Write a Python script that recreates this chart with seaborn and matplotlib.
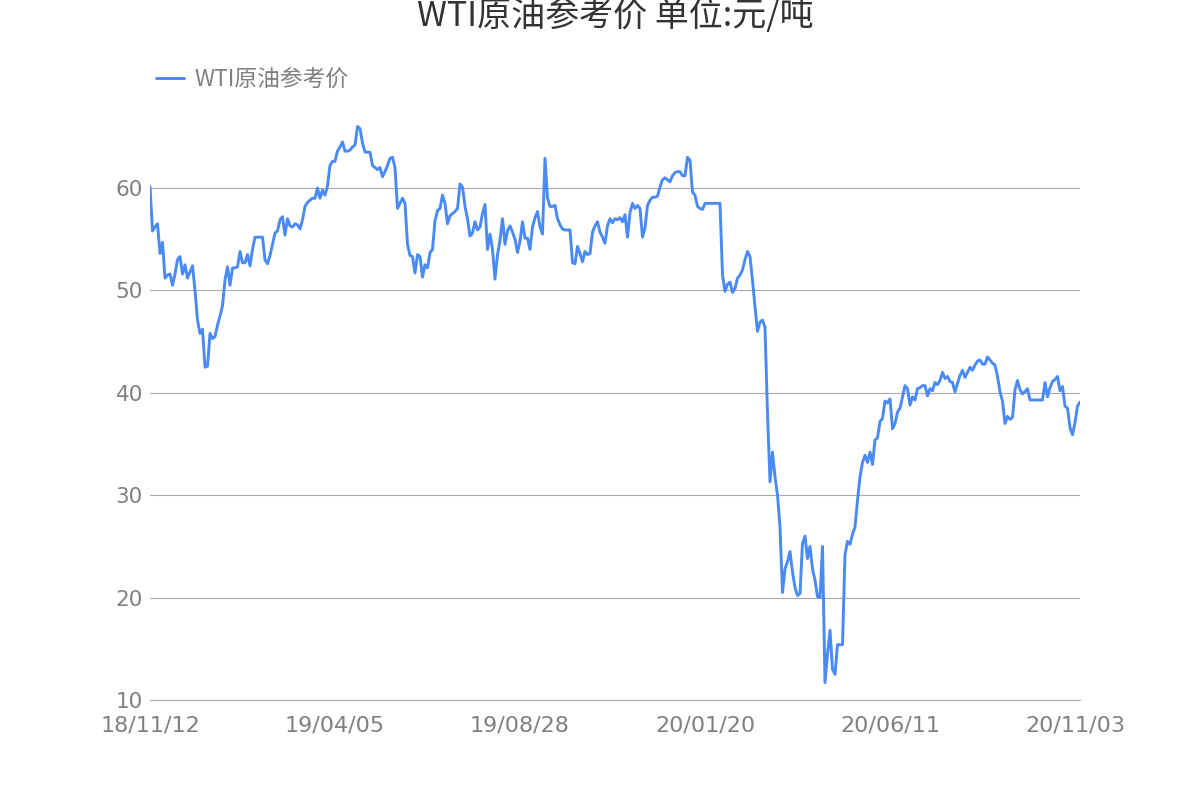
import matplotlib
matplotlib.use("Agg")
import matplotlib.pyplot as plt
import seaborn as sns
import pandas as pd
import numpy as np
from matplotlib.lines import Line2D

title = "WTI原油参考价 单位:元/吨"
series_name = "WTI原油参考价"
tick_labels = ["18/11/12", "19/04/05", "19/08/28", "20/01/20", "20/06/11", "20/11/03"]
points_per_label = 74

values = [
    60.1, 55.8, 56.2, 56.5, 53.6, 54.7, 51.2, 51.5, 51.6, 50.5,
    51.6, 53.0, 53.3, 51.6, 52.5, 51.2, 51.8, 52.4, 50.0, 47.1,
    45.8, 46.2, 42.5, 42.6, 45.8, 45.3, 45.5, 46.6, 47.5, 48.5,
    51.0, 52.3, 50.5, 52.2, 52.2, 52.3, 53.8, 52.7, 52.7, 53.5,
    52.4, 54.0, 55.2, 55.2, 55.2, 55.2, 53.0, 52.6, 53.4, 54.5,
    55.6, 55.8, 56.9, 57.2, 55.4, 57.0, 56.3, 56.2, 56.5, 56.4,
    56.0, 56.9, 58.2, 58.6, 58.8, 59.0, 59.0, 60.0, 59.0, 59.8,
    59.3, 60.2, 62.2, 62.6, 62.6, 63.6, 64.0, 64.5, 63.6, 63.6,
    63.7, 64.0, 64.2, 66.0, 65.8, 64.4, 63.5, 63.5, 63.5, 62.2,
    62.0, 61.8, 62.0, 61.1, 61.6, 62.2, 62.9, 63.0, 62.0, 58.0,
    58.5, 59.0, 58.5, 54.5, 53.4, 53.3, 51.7, 53.5, 53.3, 51.3,
    52.5, 52.2, 53.7, 54.0, 56.8, 57.8, 58.0, 59.3, 58.5, 56.5,
    57.3, 57.5, 57.7, 58.0, 60.4, 60.1, 58.2, 57.0, 55.3, 55.6,
    56.7, 55.9, 56.2, 57.5, 58.4, 54.0, 55.5, 54.0, 51.1, 53.5,
    54.9, 57.0, 54.5, 55.8, 56.3, 55.7, 55.0, 53.7, 54.8, 56.7,
    55.1, 55.1, 54.0, 56.2, 57.1, 57.7, 56.2, 55.5, 62.9, 59.0,
    58.2, 58.2, 58.3, 57.0, 56.4, 56.0, 55.9, 55.9, 55.9, 52.7,
    52.6, 54.3, 53.6, 52.8, 53.8, 53.5, 53.6, 55.7, 56.3, 56.7,
    55.7, 55.2, 54.6, 56.3, 57.0, 56.6, 57.0, 56.9, 57.1, 56.7,
    57.4, 55.2, 57.6, 58.5, 58.0, 58.3, 58.0, 55.2, 56.1, 58.3,
    58.8, 59.1, 59.1, 59.2, 60.1, 60.8, 61.0, 60.8, 60.6, 61.2,
    61.5, 61.6, 61.6, 61.2, 61.2, 63.0, 62.7, 59.6, 59.3, 58.2,
    58.0, 57.9, 58.5, 58.5, 58.5, 58.5, 58.5, 58.5, 58.5, 51.5,
    49.9, 50.6, 50.8, 49.8, 50.2, 51.2, 51.5, 52.0, 53.0, 53.8,
    53.3, 51.0, 48.4, 46.0, 46.9, 47.1, 46.4, 38.0, 31.3, 34.2,
    31.8, 30.0, 26.9, 20.5, 22.8, 23.5, 24.5, 22.5, 21.0, 20.2,
    20.4, 25.3, 26.0, 23.8, 25.0, 22.8, 21.7, 20.1, 20.0, 25.0,
    11.7, 14.5, 16.8, 13.0, 12.5, 15.4, 15.4, 15.4, 24.2, 25.5,
    25.2, 26.2, 26.9, 29.5, 31.8, 33.2, 33.9, 33.2, 34.2, 33.0,
    35.4, 35.6, 37.2, 37.5, 39.2, 39.0, 39.4, 36.5, 37.0, 38.1,
    38.5, 39.6, 40.7, 40.4, 38.8, 39.6, 39.3, 40.4, 40.5, 40.7,
    40.7, 39.7, 40.4, 40.2, 41.0, 40.8, 41.2, 42.0, 41.4, 41.6,
    41.1, 41.0, 40.1, 40.9, 41.7, 42.2, 41.5, 42.0, 42.5, 42.2,
    42.7, 43.1, 43.2, 42.8, 42.8, 43.5, 43.2, 42.9, 42.7, 41.6,
    40.1, 39.2, 37.0, 37.7, 37.4, 37.6, 40.3, 41.2, 40.3, 39.9,
    40.1, 40.4, 39.3, 39.3, 39.3, 39.3, 39.3, 39.3, 41.0, 39.6,
    40.5, 41.1, 41.3, 41.6, 40.2, 40.6, 38.7, 38.5, 36.6, 35.9,
    37.1, 38.7, 39.1,
]
y_ticks = [10, 20, 30, 40, 50, 60]

sns.set_style("white")
plt.rcParams["font.family"] = ["DejaVu Sans", "Noto Sans CJK SC"]
cjk = ["Noto Sans CJK SC", "DejaVu Sans"]

df = pd.DataFrame({"idx": np.arange(len(values)), "price": values, "series": series_name})

fig = plt.figure(figsize=(12, 8), dpi=100)
ax = fig.add_axes([150 / 1200, 100 / 800, 930 / 1200, 614.4 / 800])

line_color = "#4a8af5"
sns.lineplot(data=df, x="idx", y="price", ax=ax, color=line_color, linewidth=2.1,
             label=series_name, legend=False)

ax.set_xlim(0, len(values) - 1)
ax.set_ylim(10, 70)
ax.set_yticks(y_ticks)
ax.set_xticks([i * points_per_label for i in range(len(tick_labels))])
ax.set_xticklabels(tick_labels)
ax.set_xlabel("")
ax.set_ylabel("")

grid_color = "#aaaaaa"
ax.yaxis.grid(True, color=grid_color, linewidth=0.8)
ax.xaxis.grid(False)
ax.set_axisbelow(True)
for s in ["top", "right", "left"]:
    ax.spines[s].set_visible(False)
ax.spines["bottom"].set_color(grid_color)
ax.spines["bottom"].set_linewidth(0.8)

ax.tick_params(axis="both", length=0, labelcolor="#808080")
ax.tick_params(axis="x", pad=11, labelsize=16)
ax.tick_params(axis="y", pad=5, labelsize=15.5)

fig.text(0.5125, 1 - 17 / 800, title, ha="center", va="center", fontsize=24.5,
         color="#333333", family=cjk)

handle = Line2D([0], [0], color=line_color, linewidth=2.1)
leg = fig.legend([handle], [series_name], loc="center left",
                 bbox_to_anchor=(156 / 1200, 1 - 79 / 800), frameon=False,
                 handlelength=1.25, handletextpad=0.45, borderpad=0, borderaxespad=0,
                 prop={"family": cjk, "size": 16.4})
for t in leg.get_texts():
    t.set_color("#808080")

fig.savefig("out.png", dpi=100)
